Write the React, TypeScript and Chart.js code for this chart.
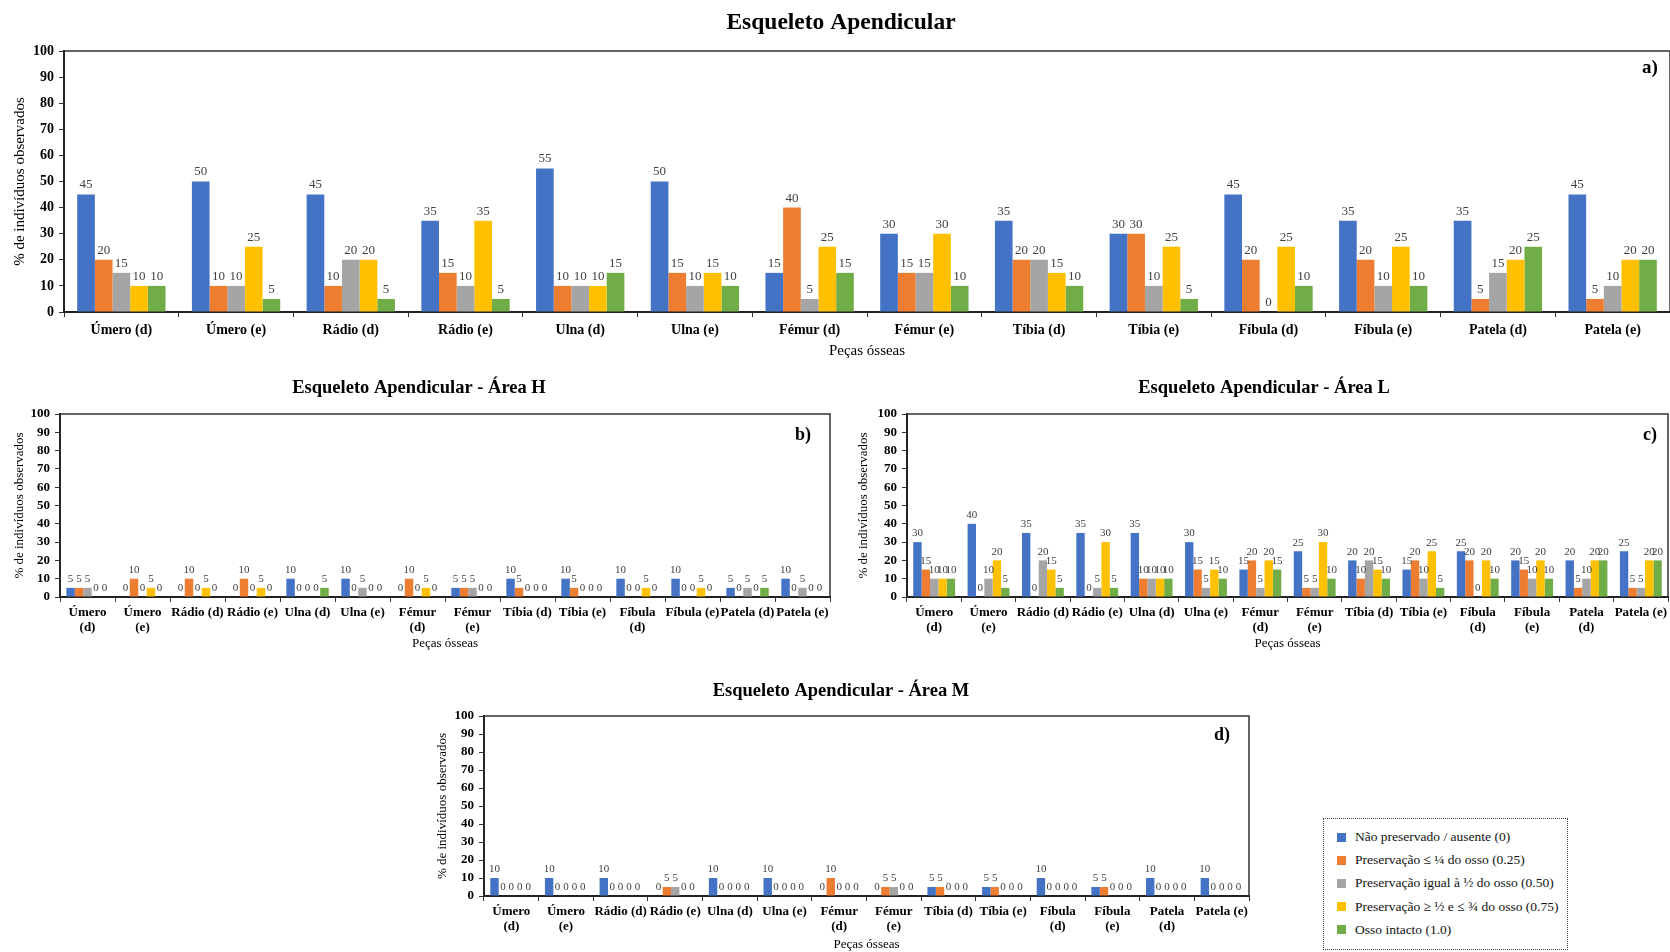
import React, { useEffect, useRef } from "react";
import { Chart, registerables } from "chart.js";

Chart.register(...registerables);

const SERIF = "'Liberation Serif', 'Times New Roman', Times, serif";

// Preservation classes (legend order) and their colours
const seriesNames = [
  "Não preservado / ausente (0)",
  "Preservação ≤ ¼ do osso (0.25)",
  "Preservação igual à ½ do osso (0.50)",
  "Preservação ≥ ½ e ≤ ¾ do osso (0.75)",
  "Osso intacto (1.0)",
];
const seriesColors = ["#4472C4", "#ED7D31", "#A5A5A5", "#FFC000", "#70AD47"];

// Bone categories
const labelsTotal = [
  "Úmero (d)", "Úmero (e)", "Rádio (d)", "Rádio (e)", "Ulna (d)", "Ulna (e)", "Fémur (d)",
  "Fémur (e)", "Tíbia (d)", "Tíbia (e)", "Fíbula (d)", "Fíbula (e)", "Patela (d)", "Patela (e)",
];
const labelsH = [
  ["Úmero", "(d)"], ["Úmero", "(e)"], "Rádio (d)", "Rádio (e)", "Ulna (d)", "Ulna (e)", ["Fémur", "(d)"],
  ["Fémur", "(e)"], "Tíbia (d)", "Tíbia (e)", ["Fíbula", "(d)"], "Fíbula (e)", "Patela (d)", "Patela (e)",
];
const labelsLM = [
  ["Úmero", "(d)"], ["Úmero", "(e)"], "Rádio (d)", "Rádio (e)", "Ulna (d)", "Ulna (e)", ["Fémur", "(d)"],
  ["Fémur", "(e)"], "Tíbia (d)", "Tíbia (e)", ["Fíbula", "(d)"], ["Fíbula", "(e)"], ["Patela", "(d)"], "Patela (e)",
];

// a) whole appendicular skeleton (%)
const totalAusente = [45, 50, 45, 35, 55, 50, 15, 30, 35, 30, 45, 35, 35, 45];
const totalQuarto = [20, 10, 10, 15, 10, 15, 40, 15, 20, 30, 20, 20, 5, 5];
const totalMetade = [15, 10, 20, 10, 10, 10, 5, 15, 20, 10, 0, 10, 15, 10];
const totalTresQuartos = [10, 25, 20, 35, 10, 15, 25, 30, 15, 25, 25, 25, 20, 20];
const totalIntacto = [10, 5, 5, 5, 15, 10, 15, 10, 10, 5, 10, 10, 25, 20];

// b) Área H (%)
const hAusente = [5, 0, 0, 0, 10, 10, 0, 5, 10, 10, 10, 10, 5, 10];
const hQuarto = [5, 10, 10, 10, 0, 0, 10, 5, 5, 5, 0, 0, 0, 0];
const hMetade = [5, 0, 0, 0, 0, 5, 0, 5, 0, 0, 0, 0, 5, 5];
const hTresQuartos = [0, 5, 5, 5, 0, 0, 5, 0, 0, 0, 5, 5, 0, 0];
const hIntacto = [0, 0, 0, 0, 5, 0, 0, 0, 0, 0, 0, 0, 5, 0];

// c) Área L (%)
const lAusente = [30, 40, 35, 35, 35, 30, 15, 25, 20, 15, 25, 20, 20, 25];
const lQuarto = [15, 0, 0, 0, 10, 15, 20, 5, 10, 20, 20, 15, 5, 5];
const lMetade = [10, 10, 20, 5, 10, 5, 5, 5, 20, 10, 0, 10, 10, 5];
const lTresQuartos = [10, 20, 15, 30, 10, 15, 20, 30, 15, 25, 20, 20, 20, 20];
const lIntacto = [10, 5, 5, 5, 10, 10, 15, 10, 10, 5, 10, 10, 20, 20];

// d) Área M (%)
const mAusente = [10, 10, 10, 0, 10, 10, 0, 0, 5, 5, 10, 5, 10, 10];
const mQuarto = [0, 0, 0, 5, 0, 0, 10, 5, 5, 5, 0, 5, 0, 0];
const mMetade = [0, 0, 0, 5, 0, 0, 0, 5, 0, 0, 0, 0, 0, 0];
const mTresQuartos = [0, 0, 0, 0, 0, 0, 0, 0, 0, 0, 0, 0, 0, 0];
const mIntacto = [0, 0, 0, 0, 0, 0, 0, 0, 0, 0, 0, 0, 0, 0];

const yMin = 0;
const yMax = 100;
const yStep = 10;
const yAxisTitle = "% de indivíduos observados";
const xAxisTitle = "Peças ósseas";

type Box = { x: number; y: number; w: number; h: number };
type Plot = { x0: number; y0: number; x1: number; y1: number };

type PanelProps = {
  box: Box;
  plot: Plot;
  labels: (string | string[])[];
  series: number[][];
  title: string;
  titleAt: [number, number];
  titleSize: number;
  letter: string;
  letterAt: [number, number];
  letterSize: number;
  yTitleX: number;
  xTitleY: number;
  axisTitleSize: number;
  yTickSize: number;
  xTickSize: number;
  xTickPad: number;
  valueSize: number;
};

function Panel(p: PanelProps) {
  const ref = useRef<HTMLCanvasElement | null>(null);

  useEffect(() => {
    if (!ref.current) return;
    const { box, plot } = p;
    const lh = p.axisTitleSize * 1.2;

    const decor = {
      id: "decor",
      afterDraw(chart: any) {
        const { ctx, chartArea } = chart;
        ctx.save();
        // top and right frame of the plot area
        ctx.strokeStyle = "#333";
        ctx.lineWidth = 1.5;
        ctx.beginPath();
        ctx.moveTo(chartArea.left, chartArea.top);
        ctx.lineTo(chartArea.right, chartArea.top);
        ctx.lineTo(chartArea.right, chartArea.bottom);
        ctx.stroke();
        // panel title
        ctx.fillStyle = "#000";
        ctx.textAlign = "center";
        ctx.textBaseline = "middle";
        ctx.font = `bold ${p.titleSize}px ${SERIF}`;
        ctx.fillText(p.title, p.titleAt[0] - box.x, p.titleAt[1] - box.y);
        // panel letter
        ctx.font = `bold ${p.letterSize}px ${SERIF}`;
        ctx.fillText(p.letter, p.letterAt[0] - box.x, p.letterAt[1] - box.y);
        ctx.restore();
      },
    };

    const valueLabels = {
      id: "valueLabels",
      afterDatasetsDraw(chart: any) {
        const { ctx } = chart;
        ctx.save();
        ctx.fillStyle = "#404040";
        ctx.textAlign = "center";
        ctx.textBaseline = "bottom";
        ctx.font = `${p.valueSize}px ${SERIF}`;
        chart.data.datasets.forEach((ds: any, i: number) => {
          const meta = chart.getDatasetMeta(i);
          meta.data.forEach((el: any, j: number) => {
            ctx.fillText(String(ds.data[j]), el.x, el.y - 3);
          });
        });
        ctx.restore();
      },
    };

    const chart = new Chart(ref.current, {
      type: "bar",
      data: {
        labels: p.labels,
        datasets: p.series.map((d, i) => ({
          label: seriesNames[i],
          data: d,
          backgroundColor: seriesColors[i],
          borderWidth: 0,
          categoryPercentage: 0.77,
          barPercentage: 1.0,
        })),
      },
      options: {
        responsive: false,
        animation: false,
        layout: {
          padding: {
            top: plot.y0 - box.y,
            right: box.x + box.w - plot.x1,
            left: 0,
            bottom: 0,
          },
        },
        plugins: {
          legend: { display: false },
          title: { display: false },
          tooltip: { enabled: false },
        },
        scales: {
          x: {
            ticks: {
              font: { family: SERIF, size: p.xTickSize, weight: "bold", lineHeight: 1.15 },
              color: "#000",
              maxRotation: 0,
              minRotation: 0,
              autoSkip: false,
              padding: p.xTickPad,
            },
            grid: { drawOnChartArea: false, tickLength: 5, color: "#333", offset: true },
            border: { color: "#222", width: 2 },
            title: {
              display: true,
              text: xAxisTitle,
              color: "#000",
              font: { family: SERIF, size: p.axisTitleSize, lineHeight: 1.2 },
              padding: { top: 0, bottom: Math.max(0, box.y + box.h - p.xTitleY - lh / 2) },
            },
            afterFit: (s: any) => {
              s.height = box.y + box.h - plot.y1;
            },
          },
          y: {
            min: yMin,
            max: yMax,
            ticks: {
              stepSize: yStep,
              autoSkip: false,
              font: { family: SERIF, size: p.yTickSize, weight: "bold" },
              color: "#000",
              padding: 5,
            },
            grid: { drawOnChartArea: false, tickLength: 5, color: "#333" },
            border: { color: "#222", width: 2 },
            title: {
              display: true,
              text: yAxisTitle,
              color: "#000",
              font: { family: SERIF, size: p.axisTitleSize, lineHeight: 1.2 },
              padding: { top: Math.max(0, p.yTitleX - box.x - lh / 2), bottom: 0 },
            },
            afterFit: (s: any) => {
              s.width = plot.x0 - box.x;
            },
          },
        },
      },
      plugins: [decor, valueLabels],
    } as any);

    return () => chart.destroy();
  }, []);

  return (
    <canvas
      ref={ref}
      width={p.box.w}
      height={p.box.h}
      style={{
        position: "absolute",
        left: p.box.x,
        top: p.box.y,
        width: p.box.w,
        height: p.box.h,
      }}
    />
  );
}

function Legend() {
  return (
    <div
      style={{
        position: "absolute",
        left: 1323,
        top: 818,
        width: 245,
        height: 132,
        border: "1px dotted #444",
        boxSizing: "border-box",
        fontFamily: SERIF,
        fontSize: 13.5,
        color: "#111",
      }}
    >
      {seriesNames.map((name, i) => (
        <div
          key={name}
          style={{
            position: "absolute",
            left: 13,
            top: 8 + i * 23.2,
            height: 20,
            display: "flex",
            alignItems: "center",
            whiteSpace: "nowrap",
          }}
        >
          <span
            style={{
              display: "inline-block",
              width: 9,
              height: 9,
              background: seriesColors[i],
              marginRight: 9,
            }}
          />
          <span>{name}</span>
        </div>
      ))}
    </div>
  );
}

export default function App() {
  return (
    <div
      style={{
        position: "fixed",
        left: 0,
        top: 0,
        width: 1670,
        height: 952,
        background: "#fff",
        overflow: "hidden",
      }}
    >
      <Panel
        box={{ x: 0, y: 0, w: 1670, h: 362 }}
        plot={{ x0: 64, y0: 51, x1: 1670, y1: 312 }}
        labels={labelsTotal}
        series={[totalAusente, totalQuarto, totalMetade, totalTresQuartos, totalIntacto]}
        title="Esqueleto Apendicular"
        titleAt={[841, 23]}
        titleSize={23.5}
        letter="a)"
        letterAt={[1650, 68]}
        letterSize={19}
        yTitleX={20}
        xTitleY={351}
        axisTitleSize={15}
        yTickSize={14}
        xTickSize={14}
        xTickPad={5}
        valueSize={13}
      />
      <Panel
        box={{ x: 0, y: 370, w: 842, h: 285 }}
        plot={{ x0: 60, y0: 414, x1: 830, y1: 597 }}
        labels={labelsH}
        series={[hAusente, hQuarto, hMetade, hTresQuartos, hIntacto]}
        title="Esqueleto Apendicular - Área H"
        titleAt={[419, 388]}
        titleSize={18.5}
        letter="b)"
        letterAt={[803, 435]}
        letterSize={18}
        yTitleX={20}
        xTitleY={644}
        axisTitleSize={13}
        yTickSize={13}
        xTickSize={13}
        xTickPad={3}
        valueSize={11}
      />
      <Panel
        box={{ x: 845, y: 370, w: 825, h: 285 }}
        plot={{ x0: 907, y0: 414, x1: 1670, y1: 597 }}
        labels={labelsLM}
        series={[lAusente, lQuarto, lMetade, lTresQuartos, lIntacto]}
        title="Esqueleto Apendicular - Área L"
        titleAt={[1264, 388]}
        titleSize={18.5}
        letter="c)"
        letterAt={[1650, 435]}
        letterSize={18}
        yTitleX={864}
        xTitleY={644}
        axisTitleSize={13}
        yTickSize={13}
        xTickSize={13}
        xTickPad={3}
        valueSize={11}
      />
      <Panel
        box={{ x: 420, y: 660, w: 842, h: 292 }}
        plot={{ x0: 484, y0: 716, x1: 1249, y1: 896 }}
        labels={labelsLM}
        series={[mAusente, mQuarto, mMetade, mTresQuartos, mIntacto]}
        title="Esqueleto Apendicular - Área M"
        titleAt={[841, 691]}
        titleSize={18.5}
        letter="d)"
        letterAt={[1222, 735]}
        letterSize={18}
        yTitleX={443}
        xTitleY={945}
        axisTitleSize={13}
        yTickSize={13}
        xTickSize={13}
        xTickPad={3}
        valueSize={11}
      />
      <Legend />
    </div>
  );
}
